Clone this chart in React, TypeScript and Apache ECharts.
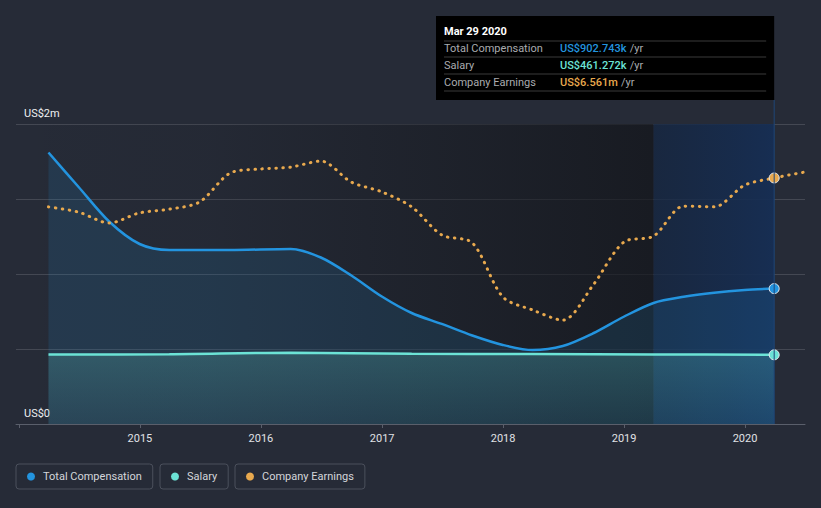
import React, { useEffect, useRef } from 'react';
import * as echarts from 'echarts';

// ---- data ----
const compDates = [
  '2014-03-31', '2014-06-30', '2014-09-30', '2014-12-31', '2015-03-31', '2015-09-30',
  '2016-03-31', '2016-06-30', '2016-09-30', '2016-12-31', '2017-03-31', '2017-06-30',
  '2017-09-30', '2017-12-31', '2018-03-31', '2018-06-30', '2018-09-30', '2018-12-31',
  '2019-03-31', '2019-06-30', '2019-09-30', '2019-12-31', '2020-03-29',
];
const compValues = [
  1.81, 1.58, 1.35, 1.2, 1.16, 1.16,
  1.167, 1.11, 0.99, 0.85, 0.74, 0.667,
  0.59, 0.527, 0.493, 0.52, 0.605, 0.715,
  0.807, 0.848, 0.875, 0.893, 0.902743,
];

const salaryDates = ['2014-03-31', '2015-03-31', '2016-03-31', '2017-03-31', '2018-03-31', '2019-03-31', '2020-03-29'];
const salaryValues = [0.463, 0.465, 0.475, 0.468, 0.466, 0.464, 0.461272];

const earnDates = [
  '2014-03-31', '2014-06-30', '2014-09-30', '2014-12-31', '2015-03-31', '2015-06-30',
  '2015-09-30', '2015-12-31', '2016-03-31', '2016-06-30', '2016-09-30', '2016-12-31',
  '2017-03-31', '2017-06-30', '2017-09-30', '2017-12-31', '2018-03-31', '2018-06-30',
  '2018-09-30', '2018-12-31', '2019-03-31', '2019-06-30', '2019-09-30', '2019-12-31',
  '2020-03-29', '2020-06-30',
];
const earnValues = [
  5.79, 5.65, 5.36, 5.63, 5.73, 5.92,
  6.69, 6.8, 6.85, 7.01, 6.45, 6.19,
  5.79, 5.04, 4.83, 3.39, 3.04, 2.77,
  3.71, 4.85, 5.01, 5.81, 5.79, 6.37,
  6.561, 6.72,
];

const yTicks = [0, 0.5, 1, 1.5, 2];
const xMin = '2013-12-23';
const xMax = '2020-06-30';
const highlightStart = '2019-03-31';
const highlightEnd = '2020-03-29';
const tooltipTitle = 'Mar 29 2020';

const C_COMP = '#2394df';
const C_SAL = '#6ce3d6';
const C_EARN = '#e8a94e';
const FONT = 'Roboto, "Noto Sans", sans-serif';

const ts = (d: string) => new Date(d + 'T00:00:00Z').getTime();

function endMarker(color: string) {
  return { symbol: 'circle', symbolSize: 10, itemStyle: { color, borderColor: '#e8ecf0', borderWidth: 1 } };
}

function buildData(dates: string[], values: number[], color: string, markerDate: string) {
  return dates.map((d, i) => {
    const item: any = { value: [ts(d), values[i]] };
    if (d === markerDate) Object.assign(item, endMarker(color));
    return item;
  });
}

export default function App() {
  const ref = useRef<HTMLDivElement>(null);
  useEffect(() => {
    document.body.style.margin = '0';
    const chart = echarts.init(ref.current!, null, { renderer: 'svg' });
    const legendBase = {
      orient: 'horizontal',
      top: 464,
      icon: 'circle',
      itemWidth: 8,
      itemHeight: 8,
      borderColor: '#4b505c',
      borderWidth: 1,
      borderRadius: 3,
      padding: [7, 11, 7, 11],
      selectedMode: false,
      textStyle: { color: '#d4d6da', fontSize: 11, fontFamily: FONT, padding: [0, 0, 0, 3] },
    };
    const option: any = {
      animation: false,
      backgroundColor: '#262b37',
      textStyle: { fontFamily: FONT },
      grid: { left: 16, right: 16, top: 124, bottom: 84, containLabel: false },
      legend: [
        { ...legendBase, left: 16, data: ['Total Compensation'] },
        { ...legendBase, left: 160, data: ['Salary'] },
        { ...legendBase, left: 235, data: ['Company Earnings'] },
      ],
      xAxis: {
        type: 'time',
        min: ts(xMin),
        max: ts(xMax),
        splitNumber: 7,
        axisLine: { show: true, lineStyle: { color: '#5a5f6b', width: 1 } },
        axisTick: { show: true, length: 4, lineStyle: { color: '#5a5f6b' } },
        splitLine: { show: false },
        axisLabel: {
          color: '#e0e2e6',
          fontSize: 11,
          fontFamily: FONT,
          margin: 9,
          formatter: (v: number) => {
            const d = new Date(v);
            const y = d.getUTCFullYear();
            return d.getUTCMonth() === 0 && y >= 2015 ? String(y) : '';
          },
        },
      },
      yAxis: [
        {
          type: 'value',
          min: yTicks[0],
          max: yTicks[yTicks.length - 1],
          interval: 0.5,
          axisLine: { show: false },
          axisTick: { show: false },
          splitLine: { show: true, lineStyle: { color: 'rgba(255,255,255,0.14)', width: 1 } },
          axisLabel: {
            inside: true,
            margin: 8,
            verticalAlign: 'bottom',
            padding: [0, 0, 5, 0],
            color: '#eef0f2',
            fontSize: 11,
            fontFamily: FONT,
            formatter: (v: number) => (v === 0 ? 'US$0' : v === 2 ? 'US$2m' : ''),
          },
        },
        { type: 'value', min: 0, max: 8, show: false, splitLine: { show: false } },
      ],
      series: [
        {
          name: 'bg',
          type: 'line',
          data: [],
          z: 0,
          silent: true,
          markArea: {
            silent: true,
            data: [
              [
                {
                  xAxis: ts(xMin),
                  itemStyle: {
                    color: new echarts.graphic.LinearGradient(0, 0, 1, 0, [
                      { offset: 0, color: 'rgba(18,20,25,0)' },
                      { offset: 0.3, color: 'rgba(18,20,25,0.08)' },
                      { offset: 1, color: 'rgba(18,20,25,0.7)' },
                    ]),
                  },
                },
                { xAxis: ts(highlightStart) },
              ],
              [
                {
                  xAxis: ts(highlightStart),
                  itemStyle: {
                    color: new echarts.graphic.LinearGradient(0, 0, 1, 0, [
                      { offset: 0, color: 'rgba(20,38,66,0.75)' },
                      { offset: 1, color: 'rgba(22,46,84,0.95)' },
                    ]),
                  },
                },
                { xAxis: ts(highlightEnd) },
              ],
            ],
          },
        },
        {
          name: 'Total Compensation',
          type: 'line',
          color: C_COMP,
          smooth: 0.3,
          showSymbol: true,
          symbol: 'none',
          z: 3,
          lineStyle: { color: C_COMP, width: 2.5 },
          areaStyle: { color: 'rgba(35,148,223,0.2)' },
          data: buildData(compDates, compValues, C_COMP, highlightEnd),
        },
        {
          name: 'Salary',
          type: 'line',
          color: C_SAL,
          smooth: 0.3,
          showSymbol: true,
          symbol: 'none',
          z: 4,
          lineStyle: { color: C_SAL, width: 2.5 },
          areaStyle: {
            color: new echarts.graphic.LinearGradient(0, 0, 0, 1, [
              { offset: 0, color: 'rgba(108,227,214,0.28)' },
              { offset: 1, color: 'rgba(108,227,214,0.1)' },
            ]),
          },
          data: buildData(salaryDates, salaryValues, C_SAL, highlightEnd),
        },
        {
          name: 'Company Earnings',
          type: 'line',
          color: C_EARN,
          yAxisIndex: 1,
          smooth: 0.3,
          showSymbol: true,
          symbol: 'none',
          z: 5,
          lineStyle: { color: C_EARN, width: 3, type: [0.5, 6.5], cap: 'round' },
          data: buildData(earnDates, earnValues, C_EARN, highlightEnd),
        },
      ],
    };
    chart.setOption(option);

    const xEnd = chart.convertToPixel({ xAxisIndex: 0 }, ts(highlightEnd)) as number;
    const yBottom = chart.convertToPixel({ yAxisIndex: 0 }, 0) as number;
    const lastComp = compValues[compValues.length - 1];
    const lastSal = salaryValues[salaryValues.length - 1];
    const lastEarn = earnValues[earnDates.indexOf(highlightEnd)];
    const rows = [
      { label: 'Total Compensation', value: 'US$' + (lastComp * 1000).toFixed(3) + 'k', color: C_COMP },
      { label: 'Salary', value: 'US$' + (lastSal * 1000).toFixed(3) + 'k', color: C_SAL },
      { label: 'Company Earnings', value: 'US$' + lastEarn.toFixed(3) + 'm', color: C_EARN },
    ];
    const boxLeft = 436;
    const boxTop = 16;
    const boxW = xEnd - boxLeft;
    const elements: any[] = [
      {
        type: 'line',
        z: 50,
        shape: { x1: xEnd, y1: boxTop + 84, x2: xEnd, y2: yBottom },
        style: { stroke: '#1f4677', lineWidth: 1 },
      },
      {
        type: 'rect',
        z: 100,
        shape: { x: boxLeft, y: boxTop, width: boxW, height: 84 },
        style: { fill: '#000000' },
      },
      {
        type: 'text',
        z: 101,
        x: boxLeft + 8,
        y: 31,
        style: { text: tooltipTitle, fill: '#ffffff', font: `bold 11px ${FONT}`, verticalAlign: 'middle' },
      },
    ];
    [41, 57, 74, 91].forEach((y) => {
      elements.push({
        type: 'line',
        z: 101,
        shape: { x1: boxLeft + 8, y1: y, x2: xEnd - 8, y2: y },
        style: { stroke: '#3a3a3a', lineWidth: 1 },
      });
    });
    rows.forEach((r, i) => {
      const y = 48.5 + i * 17;
      elements.push({
        type: 'text',
        z: 101,
        x: boxLeft + 8,
        y,
        style: { text: r.label, fill: '#a9abaf', font: `11px ${FONT}`, verticalAlign: 'middle' },
      });
      elements.push({
        type: 'text',
        z: 101,
        x: 560,
        y,
        style: {
          text: `{v|${r.value}} {u|/yr}`,
          verticalAlign: 'middle',
          rich: {
            v: { fill: r.color, font: `500 11px ${FONT}` },
            u: { fill: '#a9abaf', font: `11px ${FONT}` },
          },
        },
      });
    });
    chart.setOption({ graphic: { elements } });
    return () => chart.dispose();
  }, []);
  return <div ref={ref} style={{ width: 821, height: 508, background: '#262b37' }} />;
}
